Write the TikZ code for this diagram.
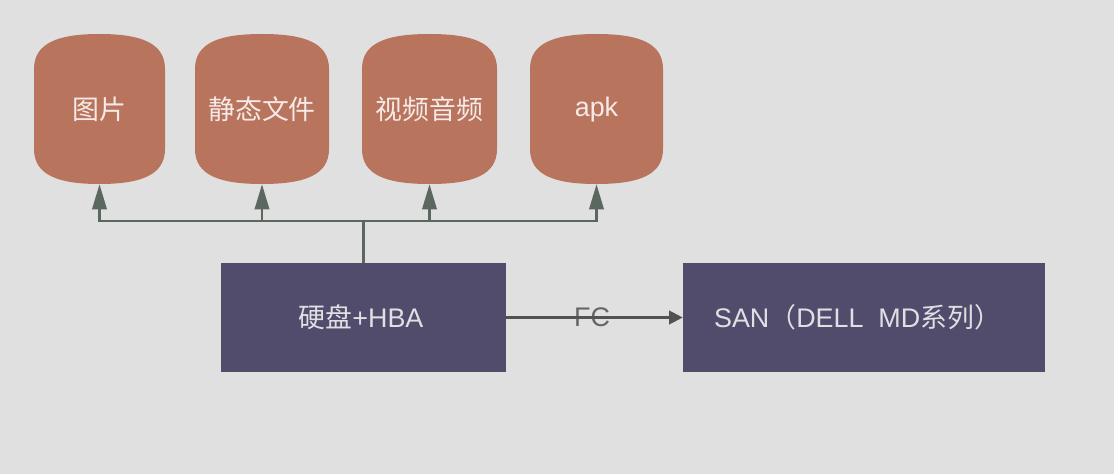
\documentclass[tikz,border=0pt]{standalone}
\usepackage{fontspec}
\setmainfont{Liberation Sans}
\newfontfamily\cjk{Noto Sans CJK SC}
\usepackage{tikz}
\usetikzlibrary{arrows.meta}
\definecolor{bgcol}{HTML}{E0E0E0}
\definecolor{drumcol}{HTML}{B9745E}
\definecolor{boxcol}{HTML}{524C6C}
\definecolor{linecol}{HTML}{5B685F}
\definecolor{fccol}{HTML}{666666}
\tikzstyle{drumtext} = [text=white!85!drumcol,minimum width=2.6cm,minimum height=3cm,inner sep=0pt,font=\fontsize{15.3}{18}\selectfont]
\tikzstyle{box}      = [fill=boxcol,text=white!82!boxcol,minimum height=2.18cm,inner sep=0pt,font=\fontsize{15.3}{18}\selectfont]
\tikzstyle{uparrow}  = [linecol,line width=1.2pt,-{Triangle[length=0.5cm,width=0.29cm]}]
\tikzstyle{fcarrow}  = [fccol!80!black,line width=1.2pt,-{Triangle[length=0.27cm,width=0.27cm]}]

\begin{document}
\begin{tikzpicture}[x=0.02cm,y=0.02cm]
        \fill[bgcol] (0,0) rectangle (1114,474);
        \useasboundingbox (0,0) rectangle (1114,474);
        % drums
        \foreach \name/\cx/\w/\txt in {img/99.5/65.5/{\cjk 图片},static/262/67/{\cjk 静态文件},media/429.5/67.5/{\cjk 视频音频},apk/596.5/66.5/{{\cjk\vphantom{图}}apk}}
        {
            \fill[drumcol] (\cx-\w,405) .. controls (\cx-\w,431) and (\cx-\w+24,440) .. (\cx,440)
                .. controls (\cx+\w-24,440) and (\cx+\w,431) .. (\cx+\w,405)
                -- (\cx+\w,325) .. controls (\cx+\w,299) and (\cx+\w-24,290) .. (\cx,290)
                .. controls (\cx-\w+24,290) and (\cx-\w,299) .. (\cx-\w,325) -- cycle;
            \node[drumtext] (\name) at (\cx,365) {\txt};
        }
        \node[box,minimum width=5.7cm] (hba) at (363.5,156.5) {{\cjk 硬盘}+HBA\kern0.1cm};
        \node[box,minimum width=7.24cm] (san) at (864,156.5) {SAN{\cjk （}DELL\ \ MD{\cjk 系列）}\kern0.26cm};
        \node[text=fccol,font=\fontsize{15.3}{18}\selectfont] (fc) at (592,157) {FC};

        \coordinate (bus) at (363.5,253);
        \draw[linecol,line width=1.2pt] (hba.north) -- (bus);
        \foreach \name in {img,static,media,apk}
            \draw[uparrow] (bus) -| (\name.south);
        \draw[fcarrow] (hba) -- (san);
    \end{tikzpicture}
\end{document}
